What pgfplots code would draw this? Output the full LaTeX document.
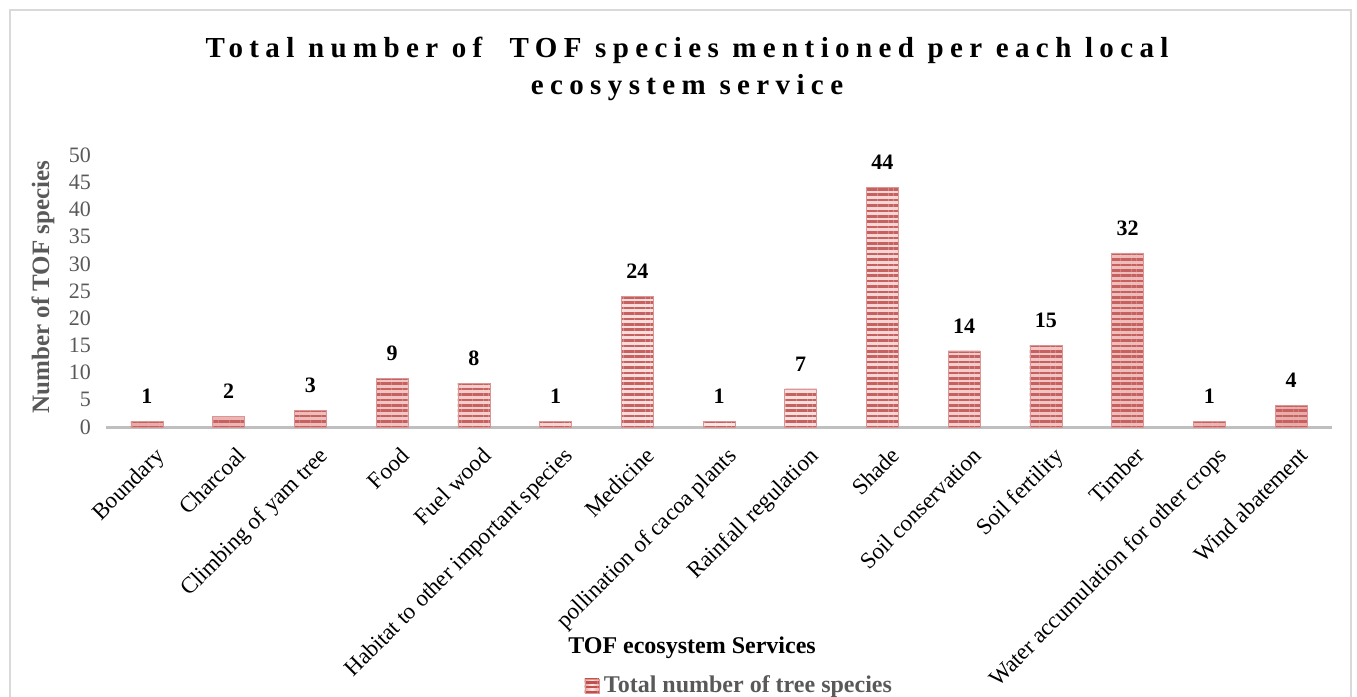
\documentclass[border=0pt]{standalone}
\usepackage{fontspec}
\setmainfont{Liberation Serif}
\usepackage{pgfplots}
\pgfplotsset{compat=1.18}
\usetikzlibrary{patterns.meta}
\definecolor{barred}{HTML}{C0504D}
\definecolor{barpink}{HTML}{F2C2C1}
\definecolor{tickgray}{HTML}{595959}
\definecolor{axgray}{HTML}{BFBFBF}
\definecolor{framegray}{HTML}{D9D9D9}
\begin{document}
\begin{tikzpicture}[x=0.5pt,y=0.5pt]
\useasboundingbox (0,0) rectangle (1357,697);
\draw[framegray, line width=0.8pt] (10,-10) -- (10,687) -- (1351,687) -- (1351,-10);
\node[font={\fontsize{14.5pt}{18.5pt}\selectfont\bfseries\addfontfeatures{LetterSpace=22}}, align=center, text=black] at (687,628)
  {Total number of \ TOF species mentioned per each local\\ecosystem service};
\node[rotate=90, font=\fontsize{12.5pt}{14pt}\selectfont\bfseries, text=tickgray] at (43,410) {Number of TOF species};
\node[font=\fontsize{12pt}{14pt}\selectfont\bfseries] at (692,49) {TOF ecosystem Services};
\begin{axis}[
  at={(53pt,135pt)}, anchor=south west,
  scale only axis, width=613pt, height=136pt,
  xmin=-0.5, xmax=14.5, ymin=0, ymax=50,
  axis lines*=left,
  y axis line style={draw=none},
  x axis line style={draw=axgray, line width=1.5pt, -},
  major tick length=0pt,
  ytick={0,5,...,50},
  xtick=data,
  xticklabels={Boundary,Charcoal,Climbing of yam tree,Food,Fuel wood,Habitat to other important species,Medicine,pollination of cacoa plants,Rainfall regulation,Shade,Soil conservation,Soil fertility,Timber,Water accumulation for other crops,Wind abatement},
  /pgf/number format/assume math mode=true,
  yticklabel style={font=\fontsize{11pt}{12pt}\selectfont, text=tickgray, anchor=east, xshift=-4pt},
  xticklabel style={font=\fontsize{11.5pt}{13pt}\selectfont, text=black, rotate=45, anchor=north east, inner sep=1pt, yshift=-8pt, xshift=-3pt},
  ybar, bar width=16pt,
  nodes near coords,
  nodes near coords style={font=\fontsize{11pt}{12pt}\selectfont\bfseries, text=black, anchor=center, yshift=12.5pt},
  legend style={at={(0.517,-0.952)}, anchor=center, draw=none, fill=none, font=\fontsize{12pt}{13pt}\selectfont\bfseries, text=tickgray, inner sep=1pt},
  legend image code/.code={\fill[barpink] (0pt,-3.5pt) rectangle (7pt,3.5pt); \fill[pattern={Lines[angle=0,distance=2.4pt,line width=1.1pt]}, pattern color=barred] (0pt,-3.5pt) rectangle (7pt,3.5pt);},
]
\addplot[draw=barred!60, line width=0.3pt,
  preaction={left color=barpink!80!barred, right color=barpink!80!barred, middle color=barpink!40},
  pattern={Lines[angle=0,distance=2.7pt,line width=1.3pt]}, pattern color=barred!90]
  coordinates {(0,1) (1,2) (2,3) (3,9) (4,8) (5,1) (6,24) (7,1) (8,7) (9,44) (10,14) (11,15) (12,32) (13,1) (14,4)};
\addlegendentry{Total number of tree species}
\end{axis}
\end{tikzpicture}
\end{document}
